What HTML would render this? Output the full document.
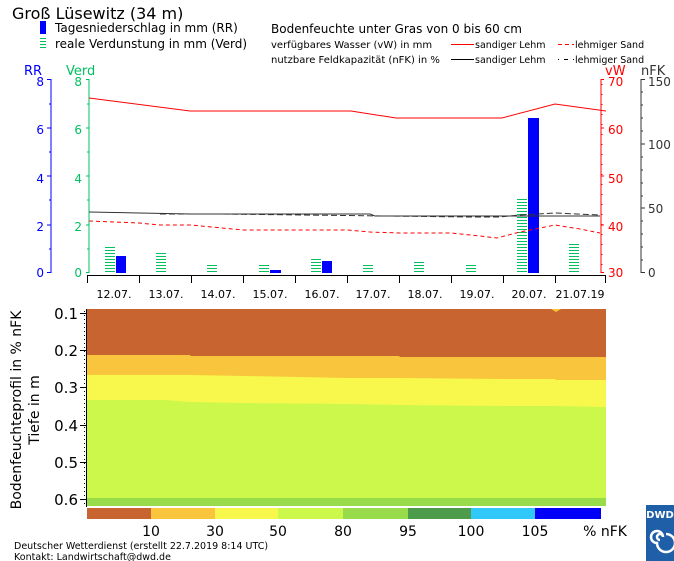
<!DOCTYPE html>
<html><head><meta charset="utf-8"><style>
html,body{margin:0;padding:0;background:#fff;}
svg{display:block;font-family:"DejaVu Sans","Liberation Sans",sans-serif;}
</style></head><body>
<svg width="674" height="561" viewBox="0 0 674 561" xmlns="http://www.w3.org/2000/svg">
<rect width="674" height="561" fill="#fff"/>
<text x="12" y="19" font-size="16" fill="#000">Groß Lüsewitz (34 m)</text>
<rect x="40" y="21" width="6" height="13" fill="#0000ff"/>
<text x="55" y="32" font-size="12">Tagesniederschlag in mm (RR)</text>
<g stroke="#00c060" stroke-width="1"><line x1="40" y1="38.5" x2="46" y2="38.5"/><line x1="40" y1="41.5" x2="46" y2="41.5"/><line x1="40" y1="44.5" x2="46" y2="44.5"/><line x1="40" y1="47.5" x2="46" y2="47.5"/></g>
<text x="55" y="48" font-size="12">reale Verdunstung in mm (Verd)</text>
<text x="271" y="33" font-size="12">Bodenfeuchte unter Gras von 0 bis 60 cm</text>
<text x="271" y="48" font-size="10">verfügbares Wasser (vW) in mm</text>
<line x1="451" y1="44.5" x2="474" y2="44.5" stroke="#f00"/>
<text x="475" y="48" font-size="9.5">sandiger Lehm</text>
<line x1="558" y1="44.5" x2="574" y2="44.5" stroke="#f00" stroke-dasharray="4,3"/>
<text x="575" y="48" font-size="9.5">lehmiger Sand</text>
<text x="271" y="63" font-size="10">nutzbare Feldkapazität (nFK) in %</text>
<line x1="451" y1="59.5" x2="474" y2="59.5" stroke="#000"/>
<text x="475" y="63" font-size="9.5">sandiger Lehm</text>
<line x1="558" y1="59.5" x2="574" y2="59.5" stroke="#000" stroke-dasharray="1,5,4,5"/>
<text x="575" y="63" font-size="9.5">lehmiger Sand</text>
<text x="24" y="75" font-size="13" fill="#0000ff">RR</text>
<text x="66" y="75" font-size="13" fill="#00c060">Verd</text>
<text x="605" y="75" font-size="13" fill="#f00">vW</text>
<text x="641" y="75" font-size="13" fill="#333">nFK</text>
<g stroke="#0000ff"><line x1="51" y1="79" x2="51" y2="273"/>
<line x1="47" y1="79.5" x2="51" y2="79.5"/><line x1="47" y1="128" x2="51" y2="128"/><line x1="47" y1="176" x2="51" y2="176"/><line x1="47" y1="225" x2="51" y2="225"/><line x1="47" y1="272.5" x2="51" y2="272.5"/>
<line x1="49" y1="104" x2="51" y2="104"/><line x1="49" y1="152" x2="51" y2="152"/><line x1="49" y1="200" x2="51" y2="200"/><line x1="49" y1="249" x2="51" y2="249"/></g>
<g fill="#0000ff" font-size="12" text-anchor="end"><text x="44" y="86">8</text><text x="44" y="134">6</text><text x="44" y="183">4</text><text x="44" y="231">2</text><text x="44" y="277">0</text></g>
<g stroke="#00c060"><line x1="89" y1="79" x2="89" y2="273"/>
<line x1="86" y1="79.5" x2="89" y2="79.5"/><line x1="86" y1="128" x2="89" y2="128"/><line x1="86" y1="176" x2="89" y2="176"/><line x1="86" y1="225" x2="89" y2="225"/><line x1="86" y1="272.5" x2="89" y2="272.5"/>
<line x1="87" y1="104" x2="89" y2="104"/><line x1="87" y1="152" x2="89" y2="152"/><line x1="87" y1="200" x2="89" y2="200"/><line x1="87" y1="249" x2="89" y2="249"/></g>
<g fill="#00c060" font-size="12" text-anchor="end"><text x="82" y="86">8</text><text x="82" y="134">6</text><text x="82" y="183">4</text><text x="82" y="231">2</text><text x="82" y="277">0</text></g>
<g stroke="#f00"><line x1="601" y1="79" x2="601" y2="273"/>
<line x1="601" y1="79.5" x2="604" y2="79.5"/><line x1="601" y1="128" x2="604" y2="128"/><line x1="601" y1="176" x2="604" y2="176"/><line x1="601" y1="225" x2="604" y2="225"/><line x1="601" y1="272.5" x2="604" y2="272.5"/></g>
<g stroke="#f00" stroke-dasharray="1,9"><line x1="602" y1="84" x2="602" y2="273"/></g>
<g fill="#f00" font-size="12"><text x="608" y="86">70</text><text x="608" y="134">60</text><text x="608" y="183">50</text><text x="608" y="231">40</text><text x="608" y="277">30</text></g>
<g stroke="#333"><line x1="641" y1="79" x2="641" y2="273"/>
<line x1="641" y1="79.5" x2="645" y2="79.5"/><line x1="641" y1="144" x2="645" y2="144"/><line x1="641" y1="208" x2="645" y2="208"/><line x1="641" y1="272.5" x2="645" y2="272.5"/>
<line x1="641" y1="92" x2="643" y2="92"/><line x1="641" y1="105" x2="643" y2="105"/><line x1="641" y1="118" x2="643" y2="118"/><line x1="641" y1="131" x2="643" y2="131"/><line x1="641" y1="157" x2="643" y2="157"/><line x1="641" y1="170" x2="643" y2="170"/><line x1="641" y1="183" x2="643" y2="183"/><line x1="641" y1="196" x2="643" y2="196"/><line x1="641" y1="221" x2="643" y2="221"/><line x1="641" y1="234" x2="643" y2="234"/><line x1="641" y1="247" x2="643" y2="247"/><line x1="641" y1="260" x2="643" y2="260"/></g>
<g fill="#333" font-size="12"><text x="648" y="86">150</text><text x="648" y="149">100</text><text x="648" y="213">50</text><text x="648" y="277">0</text></g>
<defs><pattern id="st" width="4" height="3" patternUnits="userSpaceOnUse" y="0"><rect width="4" height="1" y="1" fill="#00c060"/></pattern></defs>
<g fill="url(#st)">
<rect x="105" y="245" width="10" height="28"/><rect x="156" y="251" width="10" height="22"/><rect x="207" y="263" width="10" height="10"/><rect x="259" y="263" width="10" height="10"/><rect x="311" y="257" width="10" height="16"/><rect x="363" y="263" width="10" height="10"/><rect x="414" y="260" width="10" height="13"/><rect x="466" y="263" width="10" height="10"/><rect x="517" y="197" width="10" height="76"/><rect x="569" y="242" width="10" height="31"/></g>
<g fill="#0000ff"><rect x="116" y="256" width="10" height="17"/><rect x="270" y="270" width="11" height="3"/><rect x="322" y="261" width="10" height="12"/><rect x="528" y="118" width="11" height="155"/></g>
<polyline fill="none" stroke="#f00" points="89,98 190,111 351,111 396,118 502,118 555,104 606,111"/>
<polyline fill="none" stroke="#f00" stroke-dasharray="4,3" points="89,221 139,223 160,225 191,225 222,228 244,230 348,230 370,232 399,233 451,233 480,236 497,238 520,232 535,229 555,225 580,229 600,233"/>
<polyline fill="none" stroke="#333" points="89,212 139,213 191,214 370,214 375,216 600,216"/>
<polyline fill="none" stroke="#333" stroke-dasharray="6,3" points="160,214 220,214 470,217 500,217 519,215 555,213 600,215"/>
<g stroke="#000"><line x1="87" y1="275.5" x2="606" y2="275.5"/>
<line x1="87.5" y1="275" x2="87.5" y2="283"/><line x1="139.5" y1="275" x2="139.5" y2="283"/><line x1="191.5" y1="275" x2="191.5" y2="283"/><line x1="243.5" y1="275" x2="243.5" y2="283"/><line x1="295.5" y1="275" x2="295.5" y2="283"/><line x1="347.5" y1="275" x2="347.5" y2="283"/><line x1="399.5" y1="275" x2="399.5" y2="283"/><line x1="451.5" y1="275" x2="451.5" y2="283"/><line x1="503.5" y1="275" x2="503.5" y2="283"/><line x1="555.5" y1="275" x2="555.5" y2="283"/><line x1="605.5" y1="275" x2="605.5" y2="283"/></g>
<g font-size="11" text-anchor="middle"><text x="114" y="298">12.07.</text><text x="166" y="298">13.07.</text><text x="218" y="298">14.07.</text><text x="270" y="298">15.07.</text><text x="322" y="298">16.07.</text><text x="373" y="298">17.07.</text><text x="425" y="298">18.07.</text><text x="477" y="298">19.07.</text><text x="529" y="298">20.07.</text><text x="580" y="298">21.07.19</text></g>
<rect x="87" y="309" width="519" height="197" fill="#c8642f"/>
<polygon fill="#f8c53c" points="87,355 190,355 191,356 399,356 400,357 606,357 606,506 87,506"/>
<polygon fill="#f8f84c" points="87,375 190,375 245,376 348,378 400,378 503,379 555,379 556,380 606,380 606,506 87,506"/>
<polygon fill="#ccf84c" points="87,400 165,400 190,402 245,403 348,404 400,405 503,406 555,406 606,407 606,506 87,506"/>
<rect x="87" y="498" width="519" height="8" fill="#98dc4c"/>
<polygon fill="#f8c53c" points="551,309 561,309 556,312"/>
<g stroke="#000"><line x1="86.5" y1="309" x2="86.5" y2="507"/>
<line x1="80" y1="313.5" x2="87" y2="313.5"/><line x1="80" y1="350.5" x2="87" y2="350.5"/><line x1="80" y1="387.5" x2="87" y2="387.5"/><line x1="80" y1="425.5" x2="87" y2="425.5"/><line x1="80" y1="462.5" x2="87" y2="462.5"/><line x1="80" y1="499.5" x2="87" y2="499.5"/></g>
<g stroke="#000" stroke-dasharray="1,3"><line x1="84.5" y1="311" x2="84.5" y2="506"/></g>
<g font-size="15" text-anchor="end"><text x="78" y="319">0.1</text><text x="78" y="356">0.2</text><text x="78" y="393">0.3</text><text x="78" y="431">0.4</text><text x="78" y="468">0.5</text><text x="78" y="505">0.6</text></g>
<text transform="translate(21,410) rotate(-90)" font-size="14" text-anchor="middle">Bodenfeuchteprofil in % nFK</text>
<text transform="translate(39,410) rotate(-90)" font-size="14" text-anchor="middle">Tiefe in m</text>
<rect x="87" y="508" width="64" height="11" fill="#c8642f"/><rect x="151" y="508" width="64" height="11" fill="#f8c53c"/><rect x="215" y="508" width="63" height="11" fill="#f8f84c"/><rect x="278" y="508" width="65" height="11" fill="#ccf84c"/><rect x="343" y="508" width="65" height="11" fill="#98dc4c"/><rect x="408" y="508" width="63" height="11" fill="#4c9c4c"/><rect x="471" y="508" width="64" height="11" fill="#30c8f8"/><rect x="535" y="508" width="66" height="11" fill="#0000f8"/>
<g font-size="14" text-anchor="middle"><text x="151" y="536">10</text><text x="215" y="536">30</text><text x="278" y="536">50</text><text x="343" y="536">80</text><text x="408" y="536">95</text><text x="471" y="536">100</text><text x="535" y="536">105</text><text x="605" y="536">% nFK</text></g>
<text x="14" y="549" font-size="9.5">Deutscher Wetterdienst (erstellt 22.7.2019 8:14 UTC)</text>
<text x="14" y="560" font-size="9.5">Kontakt: Landwirtschaft@dwd.de</text>
<rect x="646" y="505" width="28" height="56" fill="#1f5fa8"/>
<text x="660" y="518" font-size="10" font-weight="bold" fill="#fff" text-anchor="middle">DWD</text>
<path d="M660,540 m0,0 a3,3 0 1,1 3,-3 a6,6 0 1,0 -6,6 a9,9 0 1,0 9,-9" fill="none" stroke="#fff" stroke-width="2.5"/>
</svg>
</body></html>
